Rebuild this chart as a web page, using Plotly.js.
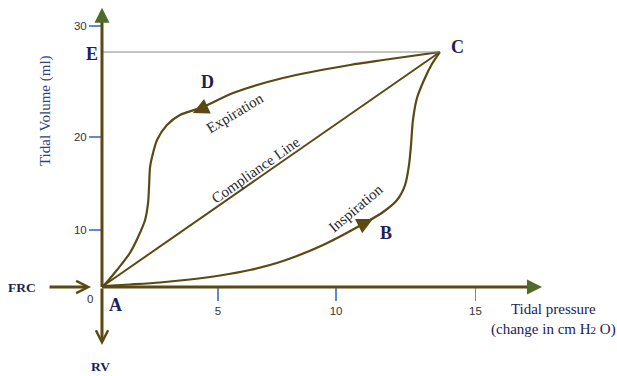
<!DOCTYPE html>
<html>
<head>
<meta charset="utf-8">
<script src="https://cdn.plot.ly/plotly-3.0.1.min.js"></script>
<style>html,body{margin:0;padding:0;background:#fff}</style>
</head>
<body>
<div id="chart" style="width:617px;height:376px"></div>
<script>
// Curva presión-volumen (bucle de histéresis)
const expX = [13.57, 11.29, 9.96, 7.27, 5.26, 4.06, 3.13, 2.61, 2.21, 2.01, 1.93, 1.89, 1.85, 1.73, 1.45, 1.12, 0.60, 0.20, 0.04];
const expY = [27.01, 26.09, 25.52, 24.02, 22.30, 20.69, 19.77, 18.62, 16.90, 14.94, 13.79, 11.49, 9.66, 7.70, 5.75, 3.91, 1.95, 0.57, 0.11];

const inspX = [0.04, 1.12, 2.33, 3.53, 4.74, 5.94, 7.27, 8.88, 10.48, 11.29, 11.85, 12.17, 12.33, 12.41, 12.49, 12.65, 12.97, 13.25, 13.57];
const inspY = [0.11, 0.29, 0.52, 0.86, 1.32, 1.95, 2.99, 4.83, 7.24, 8.62, 10.0, 11.72, 14.02, 16.32, 19.20, 21.72, 24.02, 25.63, 27.01];

const complianceX = [0.04, 13.57];
const complianceY = [0.11, 27.01];

const xTickVals = [4.66, 9.40, 15.0];
const xTickText = ['5', '10', '15'];
const yTickVals = [6.55, 17.24, 30];
const yTickText = ['10', '20', '30'];

const brown = '#5a4913';
const green = '#4f6b2b';
const navy = '#1c2158';
const serif = 'Liberation Serif, DejaVu Serif, serif';

const curve = (x, y) => ({
    x: x, y: y, type: 'scatter', mode: 'lines', hoverinfo: 'skip',
    line: { color: brown, width: 2.2, shape: 'spline', smoothing: 0.8 }
});

const data = [
    curve(expX, expY),
    curve(inspX, inspY),
    { x: complianceX, y: complianceY, type: 'scatter', mode: 'lines', hoverinfo: 'skip',
      line: { color: brown, width: 2 } }
];

// flechas sin texto
const arrow = (x, y, ax, ay, color, head, w, size) => ({
    x: x, y: y, ax: ax, ay: ay, xref: 'x', yref: 'y', text: '', showarrow: true,
    arrowhead: head, arrowwidth: w, arrowsize: size, arrowcolor: color
});

const label = (x, y, text, size, color, bold, angle) => ({
    x: x, y: y, xref: 'x', yref: 'y', showarrow: false, textangle: angle || 0,
    text: bold ? '<b>' + text + '</b>' : text,
    font: { family: serif, size: size, color: color }
});

const layout = {
    width: 617, height: 376,
    margin: { t: 0, r: 0, b: 0, l: 0 },
    paper_bgcolor: '#fff', plot_bgcolor: '#fff',
    showlegend: false,
    xaxis: {
        range: [-4.096, 20.683], anchor: 'free', position: 0.2367,
        showgrid: false, zeroline: false, showline: false,
        tickvals: xTickVals, ticktext: xTickText,
        ticks: 'outside', ticklen: 13, tickwidth: 1.5, tickcolor: '#5b8ad6',
        tickfont: { family: 'Liberation Sans, sans-serif', size: 11.5, color: '#333' }
    },
    yaxis: {
        range: [-10.23, 32.99], anchor: 'free', position: 0.1653,
        showgrid: false, zeroline: false, showline: false,
        tickvals: yTickVals, ticktext: yTickText,
        ticks: 'outside', ticklen: 13, tickwidth: 1.5, tickcolor: '#5b8ad6',
        tickfont: { family: 'Liberation Sans, sans-serif', size: 11.5, color: '#333' }
    },
    shapes: [
        { type: 'line', xref: 'x', yref: 'y', x0: 0, y0: 27.01, x1: 13.57, y1: 27.01,
          line: { color: '#8a8a8a', width: 1 } },
        { type: 'line', xref: 'x', yref: 'y', x0: 0, y0: 0, x1: 0, y1: 31.0,
          line: { color: brown, width: 3 } },
        { type: 'line', xref: 'x', yref: 'y', x0: 0, y0: 0, x1: 17.2, y1: 0,
          line: { color: brown, width: 3 } }
    ],
    annotations: [
        arrow(0, 32.1, 0, 12, green, 2, 2, 1.5),
        arrow(17.67, 0, -12, 0, green, 2, 2, 1.5),
        arrow(0, -6.67, 0, -58, brown, 5, 3, 0.8),
        arrow(-0.44, 0, -43, 0, brown, 5, 3, 0.8),
        arrow(3.65, 20.0, 13, -6, brown, 2, 2, 1.6),
        arrow(10.88, 7.82, -13, 6.5, brown, 2, 2, 1.6),

        label(-0.42, 26.78, 'E', 18, navy, true),
        label(14.26, 27.59, 'C', 18, navy, true),
        label(4.22, 23.56, 'D', 18, navy, true),
        label(11.41, 6.21, 'B', 18, navy, true),
        label(0.56, -2.07, 'A', 18, navy, true),
        label(-3.21, 0, 'FRC', 13.5, navy, true),
        label(-0.04, -9.08, 'RV', 13.5, navy, true),
        { x: -0.48, y: -1.38, xref: 'x', yref: 'y', showarrow: false, text: '0',
          font: { family: 'Liberation Sans, sans-serif', size: 11.5, color: '#333' } },

        label(5.34, 20.0, 'Expiration', 15, '#2a2a2a', false, -31),
        label(6.18, 13.4, 'Compliance Line', 15, '#2a2a2a', false, -35),
        label(10.2, 9.08, 'Inspiration', 15, '#2a2a2a', false, -40),

        label(-2.29, 20.34, 'Tidal Volume (ml)', 15, '#34427e', false, -90),
        label(18.15, -3.79, 'Tidal pressure<br>(change in cm H<span style="font-size:11px">2</span> O)', 15, navy, false)
    ]
};

Plotly.newPlot('chart', data, layout, { displayModeBar: false, staticPlot: true });
</script>
</body>
</html>
